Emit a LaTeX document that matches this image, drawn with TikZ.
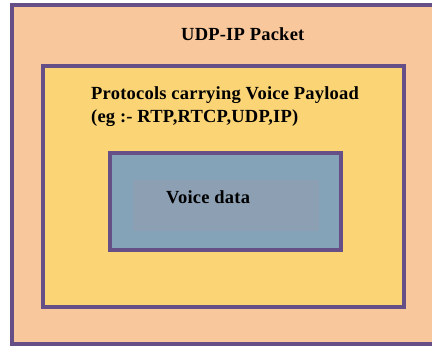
\documentclass[tikz,border=0pt]{standalone}
\usepackage{fontspec}
\setmainfont{Liberation Serif}
\newfontfamily\lblfont[LetterSpace=1.2]{Liberation Serif}
\definecolor{peach}{HTML}{F9C79C}
\definecolor{paleyellow}{HTML}{FAD475}
\definecolor{steel}{HTML}{84A3B8}
\definecolor{steelgray}{HTML}{8C9FB3}
\definecolor{frame}{HTML}{654F86}
\begin{document}
\begin{tikzpicture}[x=1pt,y=-1pt,
  box/.style={draw=frame,line width=4pt},
  lbl/.style={inner sep=0pt,anchor=base west,font=\lblfont\fontsize{18.5}{22}\selectfont\bfseries,text=black}]
\useasboundingbox (0,0) rectangle (432,349);
\fill[white] (0,0) rectangle (432,349);
\draw[box,fill=peach] (12,5) rectangle (450,344);
\draw[box,fill=paleyellow] (43,66) rectangle (404,307);
\draw[box,fill=steel] (109.5,153) rectangle (340.5,249.5);
\fill[steelgray] (133,180) rectangle (319,231);
\node[lbl] (title) at (181,40) {UDP-IP Packet};
\node[lbl] (proto1) at (91,99) {Protocols carrying Voice Payload};
\node[lbl] (proto2) at (91,122) {(eg :- RTP,RTCP,UDP,IP)};
\node[lbl] (voice) at (166,203) {Voice data};
\end{tikzpicture}
\end{document}
